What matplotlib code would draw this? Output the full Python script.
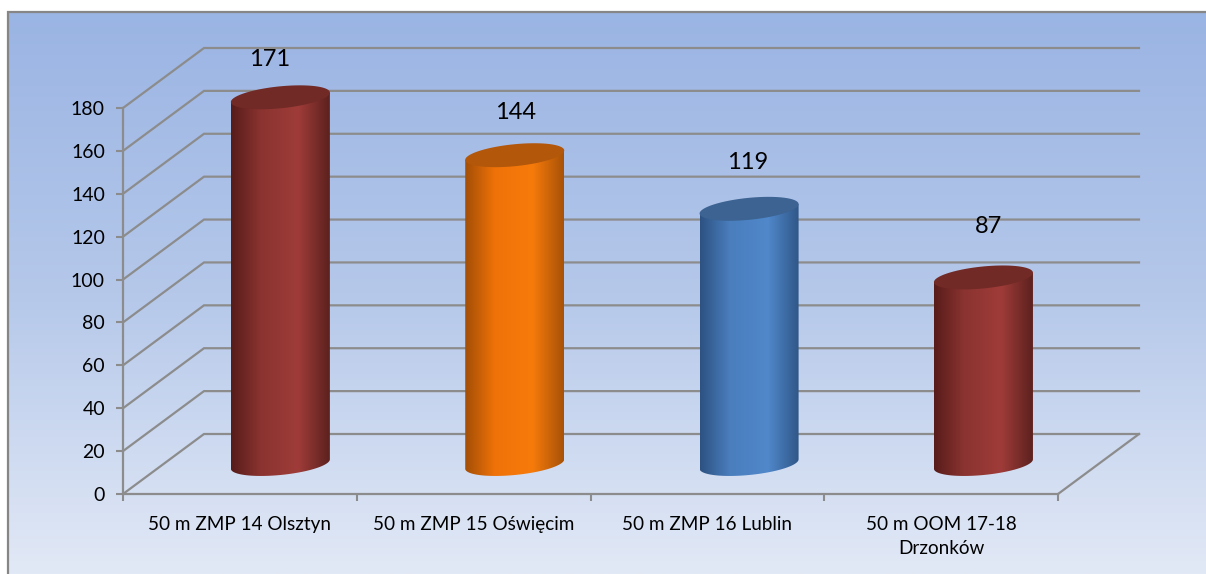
import numpy as np
import matplotlib
matplotlib.use("Agg")
import matplotlib.pyplot as plt
from matplotlib.colors import LinearSegmentedColormap
from matplotlib.patches import Polygon

plt.rcParams["font.family"] = ["Lato", "DejaVu Sans"]

# data
categories = ["50 m ZMP 14 Olsztyn", "50 m ZMP 15 Oświęcim", "50 m ZMP 16 Lublin", "50 m OOM 17-18\nDrzonków"]
values = [171, 144, 119, 87]
y_ticks = list(range(0, 181, 20))

# bar look
side_colors = [
    ["#571c1a", "#8a3330", "#9f3c39", "#5c211e"],
    ["#a34e06", "#ee7208", "#f77b0b", "#a85207"],
    ["#2d5282", "#4a7ebd", "#5088cb", "#2f5585"],
    ["#571c1a", "#8a3330", "#9f3c39", "#5c211e"],
]
top_colors = ["#722a26", "#b3570a", "#3c6392", "#722a26"]
label_offsets = [(-11, 38), (1, 43), (-1, 46), (5, 51)]

# layout, in pixels of the 1206x574 image
W, H = 1206, 574
left, right, y0, y180 = 123, 1058, 494, 108
depth_px, rise_px = 81, 60
cyl_half_px, cyl_b_px, cyl_k_px, cyl_step = 49.5, 11, 4.7, 1.0026

fig = plt.figure(figsize=(W / 100, H / 100), dpi=100, facecolor="white")

# background panel
bg = fig.add_axes([0, 0, 1, 1])
bg.axis("off")
bg_cmap = LinearSegmentedColormap.from_list("bg", ["#9ab4e3", "#b5c8ea", "#e2e9f6"])
bg.imshow(np.linspace(0, 1, 256).reshape(-1, 1), extent=(8, W, H, 12), aspect="auto", cmap=bg_cmap)
bg.set_xlim(0, W)
bg.set_ylim(H, 0)
bg.plot([8, 8, W], [H, 12, 12], color="#868686", lw=1.6, solid_joinstyle="miter")

# chart axes: front plane of the box
ax = fig.add_axes([left / W, 1 - y0 / H, (right - left) / W, (y0 - y180) / H])
ax.patch.set_alpha(0)
n = len(categories)
for s in ["top", "right"]:
    ax.spines[s].set_visible(False)
for s in ["left", "bottom"]:
    ax.spines[s].set_color("#8c8c8c")
    ax.spines[s].set_linewidth(1.6)

px_x = n / (right - left)
px_y = 180 / (y0 - y180)
dx, dy = depth_px * px_x, rise_px * px_y

grid_color = "#8c8c8c"
for t in y_ticks:
    ax.plot([0, dx, n + dx], [t, t + dy, t + dy], color=grid_color, lw=1.6, clip_on=False, zorder=1,
            solid_joinstyle="miter")
ax.plot([n, n + dx], [0, dy], color=grid_color, lw=1.6, clip_on=False, zorder=1)

ax.set_yticks(y_ticks)
ax.set_xticks(range(n + 1))
ax.set_xticklabels([])
ax.tick_params(axis="both", length=5, width=1.5, color=grid_color, labelsize=14, pad=8)
for i, c in enumerate(categories):
    ax.annotate(c, (i + 0.5, 0), xytext=(0, -22), textcoords="offset pixels", ha="center", va="top",
                fontsize=13.6, linespacing=1.5, annotation_clip=False)

# cylinders
t = np.linspace(0, 2 * np.pi, 181)
low = np.linspace(np.pi, 2 * np.pi, 91)
half = cyl_half_px * px_x
b = cyl_b_px * px_y
k = cyl_k_px * px_y
base = dy / 2
for i, v in enumerate(values):
    cx = (i * cyl_step) + 0.5 + dx / 2
    # side outline: front half of the base ellipse, then straight up to the top
    side_x = np.concatenate([cx + half * np.cos(low), [cx + half, cx - half]])
    side_y = np.concatenate([base + b * np.sin(low) + k * np.cos(low), [base + v + k, base + v - k]])
    cmap = LinearSegmentedColormap.from_list(
        "side%d" % i, list(zip([0, 0.3, 0.68, 1], side_colors[i])))
    im = ax.imshow(np.linspace(0, 1, 256).reshape(1, -1), extent=(cx - half, cx + half, 0, 200),
                   aspect="auto", cmap=cmap, zorder=3)
    im.set_clip_box(fig.bbox)
    im.set_clip_path(Polygon(np.column_stack([side_x, side_y]), transform=ax.transData))
    ax.fill(cx + half * np.cos(t), base + v + b * np.sin(t) + k * np.cos(t), color=top_colors[i], lw=0,
            zorder=4, clip_on=False)
    ax.annotate(str(v), (cx, base + v), xytext=label_offsets[i], textcoords="offset pixels",
                ha="center", va="center", fontsize=17, annotation_clip=False, zorder=5)

ax.set_xlim(0, n)
ax.set_ylim(0, 180)

fig.savefig("out.png", dpi=100)
